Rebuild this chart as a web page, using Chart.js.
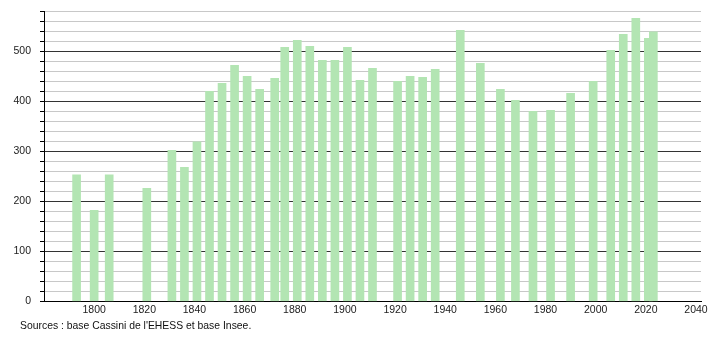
<!DOCTYPE html>
<html>
<head>
<meta charset="utf-8">
<script src="https://cdn.jsdelivr.net/npm/chart.js@4"></script>
<style>
  body { margin: 0; background: #fff; overflow: hidden; }
  #wrap { position: relative; width: 710px; height: 340px; overflow: hidden; }
  #chart { position: absolute; left: 0; top: -4px; }
  #source {
    position: absolute; left: 20px; top: 320px;
    font: 10.4px "Liberation Sans", Arial, sans-serif; color: #111;
  }
</style>
</head>
<body>
<div id="wrap">
  <canvas id="chart" width="710" height="344"></canvas>
  <div id="source">Sources : base Cassini de l'EHESS et base Insee.</div>
</div>
<script>
const years = [1793, 1800, 1806, 1821, 1831, 1836, 1841, 1846, 1851, 1856,
    1861, 1866, 1872, 1876, 1881, 1886, 1891, 1896, 1901, 1906,
    1911, 1921, 1926, 1931, 1936, 1946, 1954, 1962, 1968, 1975,
    1982, 1990, 1999, 2006, 2011, 2016, 2021, 2023];
const population = [253, 182, 253, 226, 302, 268, 319, 420, 436, 472,
    450, 424, 446, 508, 522, 510, 482, 482, 508, 442,
    466, 440, 450, 448, 464, 542, 476, 424, 402, 380,
    382, 416, 440, 502, 534, 566, 526, 539];
const xTicks = [1800, 1820, 1840, 1860, 1880, 1900, 1920, 1940, 1960, 1980, 2000, 2020, 2040];
const yLabels = [0, 100, 200, 300, 400, 500];

const font = { family: '"Liberation Sans", Arial, sans-serif', size: 10.5 };

new Chart(document.getElementById('chart'), {
    type: 'bar',
    data: {
        datasets: [{
            data: years.map((y, i) => ({ x: y, y: population[i] })),
            backgroundColor: '#b3e5b3',
            borderWidth: 0,
            barThickness: 8
        }]
    },
    options: {
        responsive: false,
        animation: false,
        layout: { padding: { left: 0, right: 9, top: 4, bottom: 22 } },
        plugins: { legend: { display: false }, tooltip: { enabled: false } },
        scales: {
            x: {
                type: 'linear',
                offset: false,
                min: 1780,
                max: 2042,
                afterBuildTicks: s => { s.ticks = xTicks.map(v => ({ value: v })); },
                ticks: { color: '#222', font: font, padding: 2, maxRotation: 0, callback: v => String(v) },
                grid: { display: false, drawTicks: false, offset: false },
                border: { display: true, color: '#000', width: 1 }
            },
            y: {
                min: 0,
                max: 580,
                afterFit: s => { s.width = 44; },
                ticks: {
                    stepSize: 20,
                    autoSkip: false,
                    color: '#222',
                    font: font,
                    padding: 9,
                    callback: v => yLabels.includes(v) ? String(v) : ''
                },
                grid: {
                    color: c => c.tick && c.tick.value % 100 === 0 ? '#333' : '#c8c8c8',
                    tickColor: '#000',
                    tickLength: 4,
                    lineWidth: 1
                },
                border: { display: true, color: '#000', width: 1 }
            }
        }
    }
});
</script>
</body>
</html>
